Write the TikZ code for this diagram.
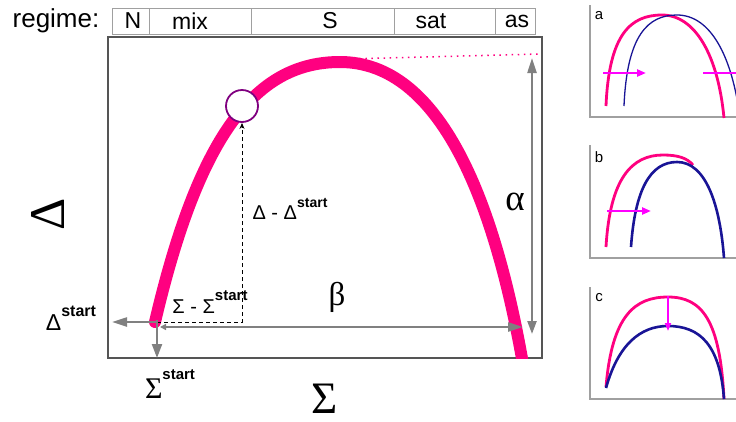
\documentclass[tikz,border=0pt]{standalone}
\usepackage{fontspec}
\setmainfont{Liberation Sans}
\newfontfamily\symfont{Liberation Serif}
\usetikzlibrary{arrows.meta}
\definecolor{curvepink}{RGB}{255,0,128}
\definecolor{navyblue}{RGB}{25,20,150}
\definecolor{arrowmag}{RGB}{255,0,255}
\definecolor{arrgray}{RGB}{128,128,128}
\definecolor{boxgray}{RGB}{85,85,85}
\definecolor{bargray}{RGB}{160,160,160}
\definecolor{circpurple}{RGB}{128,0,128}
\newcommand{\fs}[1]{\fontsize{#1}{#1}\selectfont}
\newcommand{\startsup}[1]{\raisebox{0.62em}{\fs{#1}\bfseries start}}
\tikzset{
  gtip/.tip={Triangle[length=15pt,width=9pt]},
  regtxt/.style={inner sep=0pt, font=\fs{23}},
  grayarrow/.style={draw=arrgray, line width=2.2pt},
  lbl/.style={inner sep=0pt},
  smallaxis/.style={draw=bargray, line width=1.4pt},
  pinkthin/.style={draw=curvepink, line width=2.8pt},
  bluethin/.style={draw=navyblue, line width=1.3pt},
  bluethick/.style={draw=navyblue, line width=2.6pt},
  magarrow/.style={draw=arrowmag, line width=2.4pt, -{Triangle[length=9pt,width=7pt]}},
  panellbl/.style={inner sep=0pt, font=\fs{15}}
}
\begin{document}
\begin{tikzpicture}[x=1pt,y=-1pt]
\useasboundingbox (0,0) rectangle (736,421);
\clip (0,0) rectangle (736,421);
\fill[white] (0,0) rectangle (736,421);

% regime bar
\node[regtxt, font=\fs{26}] (regime) at (56,21) {regime:};
\draw[bargray, line width=1pt] (112,8) rectangle (535,34);
\foreach \xx in {149,251,394,495} \draw[bargray, line width=1pt] (\xx,8) -- (\xx,34);
\node[regtxt] (rN) at (133,21) {N};
\node[regtxt] (rmix) at (190,21) {mix};
\node[regtxt] (rS) at (330,21) {S};
\node[regtxt] (rsat) at (431,21) {sat};
\node[regtxt] (ras) at (517,21) {as};

% main box
\draw[boxgray, line width=1.4pt] (108,37) rectangle (542,358);

% main curve
\begin{scope}
\clip (108,37) rectangle (542,358);
\draw[curvepink, line width=12pt, line cap=round] (155,322) .. controls (200,130) and (258,62) .. (340,62) .. controls (440,62) and (495,200) .. (524,370);
\end{scope}
\draw[curvepink, line width=1.5pt, dash pattern=on 1.5pt off 4.6pt] (347,59) -- (540,54);

% coordinates
\coordinate (s0) at (157,322);
\coordinate (dleft) at (112,322);
\coordinate (sdown) at (157,358);
\coordinate (bL) at (160,327);
\coordinate (bR) at (523,327);
\coordinate (aT) at (532,58);
\coordinate (aB) at (532,334);

% circle point
\node[circle, draw=circpurple, line width=1.8pt, fill=white, minimum size=32pt, inner sep=0pt] (pt) at (242,106) {};

% dashed legs
\draw[black, line width=1pt, dash pattern=on 4pt off 3pt, -{Stealth[length=6pt,width=5pt]}] (s0) -| (pt.south);

% gray arrows
\draw[grayarrow, -{gtip}] (s0) -- (dleft);
\draw[grayarrow, -{Triangle[length=14pt,width=10pt]}] ([yshift=2pt]s0) -- (sdown);
\draw[grayarrow, {Triangle[length=6pt,width=6pt]}-{gtip}] (bL) -- (bR);
\draw[grayarrow, {gtip}-{Triangle[length=13pt,width=9pt]}] (aT) -- (aB);

% labels
\node[lbl, font=\fs{20}] (ldd) at (290,209) {Δ - Δ\startsup{14}};
\node[lbl, font=\fs{20}] (lss) at (210,302) {Σ - Σ\startsup{15}};
\node[lbl, font=\fs{23}] (ldstart) at (71,318) {Δ\startsup{16}};
\node[lbl, font=\fs{30}] (lsstart) at (170,384) {{\symfont Σ}\startsup{15}};
\node[lbl, font=\fs{33}\symfont] (lbeta) at (337,297) {β};
\node[lbl, font=\fs{37}\symfont] (lalpha) at (515,202) {α};
\node[lbl, font=\fs{45}\symfont, anchor=base] (lsigma) at (325,413) {Σ};
\node[lbl, font=\fs{50}\symfont, rotate=90] (ldelta) at (48,214) {Δ};

% ---- panel a
\draw[smallaxis] (590,5) -- (590,117) -- (740,117);
\node[panellbl] (pa) at (599,16) {a};
\draw[pinkthin] (606,106) .. controls (609,35) and (630,15) .. (662,15) .. controls (695,15) and (718,55) .. (724,118);
\draw[bluethin] (624,106) .. controls (627,35) and (648,15) .. (677,15) .. controls (710,15) and (732,55) .. (740,118);
\coordinate (a1s) at (603,73); \coordinate (a1e) at (646,73);
\coordinate (a2s) at (703,73); \coordinate (a2e) at (746,73);
\draw[magarrow] (a1s) -- (a1e);
\draw[magarrow] (a2s) -- (a2e);

% ---- panel b
\draw[smallaxis] (590,145) -- (590,258) -- (740,258);
\node[panellbl] (pb) at (599,157) {b};
\draw[pinkthin] (606,247) .. controls (610,178) and (632,155) .. (663,155) .. controls (678,155) and (687,158) .. (693,165);
\draw[bluethick] (631,247) .. controls (635,190) and (650,162) .. (677,162) .. controls (706,162) and (720,205) .. (724,258);
\coordinate (b1s) at (607,211); \coordinate (b1e) at (651,211);
\draw[magarrow] (b1s) -- (b1e);

% ---- panel c
\draw[smallaxis] (590,287) -- (590,399) -- (740,399);
\node[panellbl] (pc) at (599,298) {c};
\draw[pinkthin] (606,387) .. controls (612,315) and (635,297) .. (668,297) .. controls (702,297) and (720,320) .. (724,399);
\draw[bluethick] (606,388) .. controls (618,345) and (640,326) .. (668,326) .. controls (700,326) and (720,345) .. (724,399);
\coordinate (c1s) at (668,296); \coordinate (c1e) at (668,331);
\draw[draw=arrowmag, line width=1.8pt, -{Triangle[length=8pt,width=6pt]}] (c1s) -- (c1e);
\end{tikzpicture}
\end{document}
